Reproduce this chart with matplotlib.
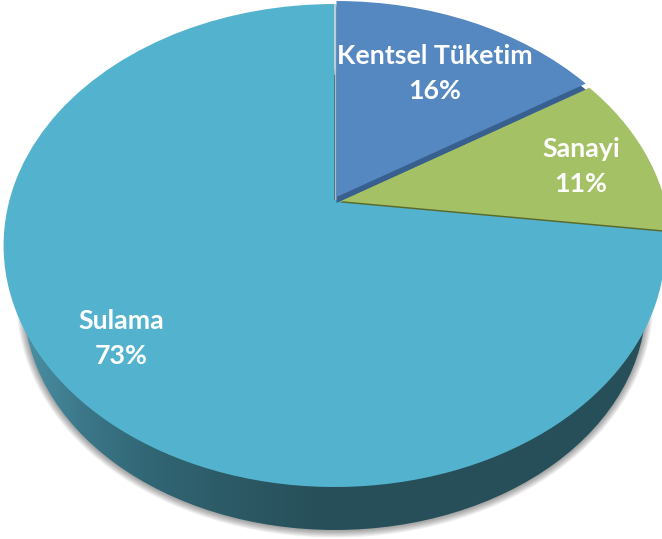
import matplotlib
matplotlib.use("Agg")
import matplotlib.pyplot as plt
import numpy as np
from matplotlib.patches import Ellipse, Wedge
from matplotlib.transforms import Transform

categories = ["Kentsel Tüketim", "Sanayi", "Sulama"]
shares = [16, 11, 73]
colors = ["#5587c1", "#a5c165", "#53b3ce"]
edge_colors = ["#38608f", "#5a6a2c"]

W, H = 662, 539
APEX_X, APEX_Y = 335, 200
KX, KY, K = 325, 232.9, 0.1884   # tilt of the pie, pixel units


class Tilt(Transform):
    """unit circle -> tilted disc in pixel coordinates"""
    input_dims = 2
    output_dims = 2

    def __init__(self, dx=0, dy=0):
        super().__init__()
        self.dx = dx
        self.dy = dy

    def transform_non_affine(self, values):
        values = np.asarray(values, dtype=float)
        w = 1 + K * values[:, 1]
        return np.column_stack([
            APEX_X + self.dx + KX * values[:, 0] / w,
            APEX_Y + self.dy - KY * values[:, 1] / w,
        ])


fig = plt.figure(figsize=(W / 100, H / 100), dpi=100, facecolor="white")
ax = fig.add_axes([0, 0, 1, 1])

wedges = ax.pie(shares, colors=colors, startangle=90, counterclock=False)[0]

ax.set_aspect("auto")
ax.set_xlim(0, W)
ax.set_ylim(H, 0)
ax.axis("off")

# soft shadow under the wall
for i in range(1, 10):
    ax.add_patch(Ellipse((335, 303), 622 + i * 1.6, 455 + i * 1.6,
                         facecolor="#000000", alpha=0.045, edgecolor="none", zorder=1))

# wall of the disc, horizontal gradient
stops_x = [0, 25, 80, 150, 230, 320, 662]
stops_r = [0x50, 0x4a, 0x3c, 0x31, 0x2c, 0x27, 0x26]
stops_g = [0x98, 0x90, 0x78, 0x66, 0x5a, 0x4f, 0x4f]
stops_b = [0xac, 0xa4, 0x8a, 0x74, 0x66, 0x59, 0x59]
xs = np.arange(W)
grad = np.dstack([np.interp(xs, stops_x, stops_r),
                  np.interp(xs, stops_x, stops_g),
                  np.interp(xs, stops_x, stops_b)]).astype(np.uint8)
wall = Ellipse((335, 302.5), 622, 455, facecolor="none", edgecolor="none", zorder=2)
ax.add_patch(wall)
im = ax.imshow(grad, extent=(0, W, H, 0), aspect="auto", zorder=2)
im.set_clip_path(wall)
ax.set_xlim(0, W)
ax.set_ylim(H, 0)

# slices: offsets copy the small explosion in the picture
offsets = [(1.5, -3), (5, 1), (-0.5, 0)]
strips = [(0, 6), (0, 1.5)]
zorders = [7, 5, 3]
for i, wd in enumerate(wedges):
    dx, dy = offsets[i]
    wd.set_transform(Tilt(dx, dy) + ax.transData)
    wd.set_edgecolor("none")
    wd.set_zorder(zorders[i])
    if i < 2:
        sx, sy = strips[i]
        under = Wedge((0, 0), 1, wd.theta1, wd.theta2, facecolor=edge_colors[i],
                      edgecolor="none", zorder=zorders[i] - 1)
        ax.add_patch(under)
        under.set_transform(Tilt(dx + sx, dy + sy) + ax.transData)

# grey edge of the big slice, beside the gap
ax.plot([0, 0], [0, 1], color="#c4c4c4", lw=1.3, solid_capstyle="butt", zorder=3.5,
        transform=Tilt(1, 0) + ax.transData)

# labels
label_pos = [(435, 73), (581, 166), (121, 338)]
for cat, val, (lx, ly) in zip(categories, shares, label_pos):
    ax.text(lx, ly - 17, cat, family="Lato", fontweight="bold", fontsize=19.3,
            color="white", ha="center", va="center", zorder=10)
    ax.text(lx, ly + 18, f"{val}%", family="Lato", fontweight="bold", fontsize=19.3,
            color="white", ha="center", va="center", zorder=10)

fig.savefig("out.png", dpi=100, facecolor="white")
